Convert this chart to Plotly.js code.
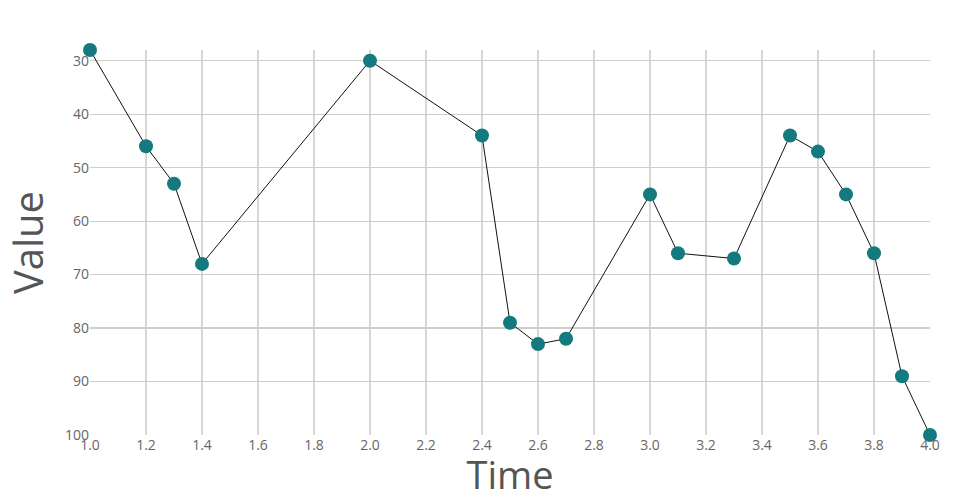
<!DOCTYPE html>
<html>
<head>
<meta charset="utf-8">
<script src="https://cdn.plot.ly/plotly-3.0.1.min.js"></script>
<style>html,body{margin:0;padding:0;background:#fff;}#chart{width:960px;height:500px;}</style>
</head>
<body>
<div id="chart"></div>
<script>
var times = [1.0, 1.2, 1.3, 1.4, 2.0, 2.4, 2.5, 2.6, 2.7, 3.0, 3.1, 3.3, 3.5, 3.6, 3.7, 3.8, 3.9, 4.0];
var values = [28, 46, 53, 68, 30, 44, 79, 83, 82, 55, 66, 67, 44, 47, 55, 66, 89, 100];
var xTitle = "Time";
var yTitle = "Value";

var trace = {
  x: times,
  y: values,
  type: 'scatter',
  mode: 'lines+markers',
  line: {color: '#111111', width: 1},
  marker: {color: '#137b7d', size: 14},
  cliponaxis: false
};

var layout = {
  width: 960, height: 500,
  margin: {l: 90, r: 30, t: 50, b: 65},
  paper_bgcolor: '#ffffff',
  plot_bgcolor: '#ffffff',
  showlegend: false,
  font: {family: 'Open Sans, sans-serif', color: '#666666'},
  xaxis: {
    range: [1, 4],
    dtick: 0.2,
    tick0: 1,
    tickformat: '.1f',
    showgrid: true,
    gridcolor: '#d8d8d3',
    gridwidth: 1.5,
    zeroline: false,
    showline: false,
    ticks: '',
    tickfont: {size: 14, color: '#666666'},
    title: {text: xTitle, font: {size: 38, color: '#555555'}, standoff: 2}
  },
  yaxis: {
    range: [100, 28],
    dtick: 10,
    tick0: 0,
    showgrid: true,
    gridcolor: '#cfcfca',
    gridwidth: 1.2,
    zeroline: false,
    showline: false,
    ticks: '',
    tickfont: {size: 14, color: '#666666'},
    title: {text: yTitle, font: {size: 40, color: '#555555'}, standoff: 12}
  }
};

Plotly.newPlot('chart', [trace], layout, {displayModeBar: false, staticPlot: true});
</script>
</body>
</html>
